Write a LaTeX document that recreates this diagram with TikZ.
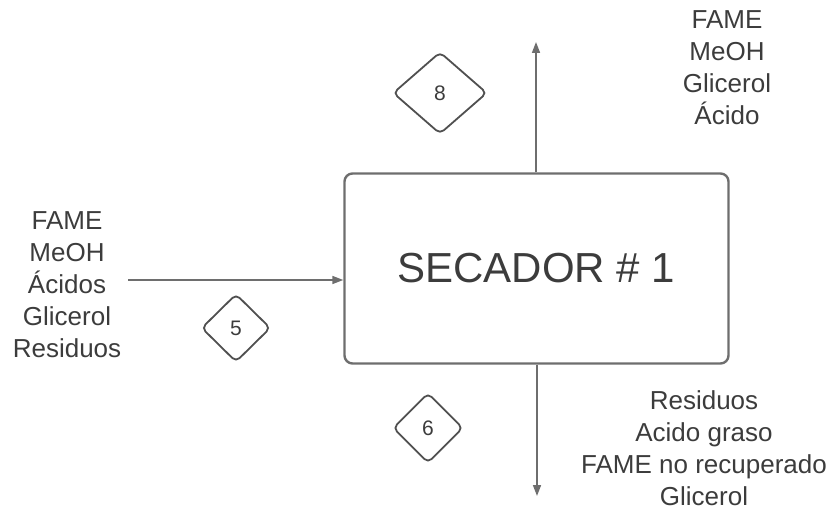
\documentclass[tikz,border=0pt]{standalone}
\usepackage{fontspec}
\setmainfont{Liberation Sans}
\usetikzlibrary{shapes.geometric,arrows.meta}
\definecolor{ln}{HTML}{6E6E6E}
\definecolor{tx}{HTML}{3C3C3C}
\tikzset{
  flow/.style={draw=ln,line width=1.6pt,-{Triangle[length=11pt,width=8pt]}},
  box/.style={draw=ln,line width=2.4pt,rounded corners=8pt,minimum width=384pt,minimum height=190pt,inner sep=0pt,text=tx,font=\fontsize{42}{48}\selectfont},
  tag/.style={diamond,draw=tx!90,line width=1.8pt,rounded corners=5pt,inner sep=0pt,text=tx,font=\fontsize{21}{24}\selectfont},
  lbl/.style={align=center,text=tx,font=\fontsize{26}{32}\selectfont,inner sep=0pt}
}
\begin{document}
\begin{tikzpicture}[x=1pt,y=-1pt]
\useasboundingbox (0,0) rectangle (835,510);
\node[box] (sec) at (536.5,268.5) {SECADOR \# 1};
\coordinate (top) at (536,42);
\coordinate (bot) at (537,496);
\coordinate (in) at (128,280);
\draw[flow] (sec.north -| top) -- (top);
\draw[flow] (sec.south -| bot) -- (bot);
\draw[flow] (in) -- (in -| sec.west);
\node[tag,minimum width=94pt,minimum height=82pt] (d8) at (440,93) {8};
\node[tag,minimum width=69pt,minimum height=68pt] (d5) at (236,328) {5};
\node[tag,minimum width=70pt,minimum height=70pt] (d6) at (428,428) {6};
\node[lbl] (tin) at (67,285) {FAME\\MeOH\\Ácidos\\Glicerol\\Residuos};
\node[lbl] (ttop) at (727,68) {FAME\\MeOH\\Glicerol\\Ácido};
\node[lbl] (tbot) at (704,448) {Residuos\\Acido graso\\FAME no recuperado\\Glicerol};
\end{tikzpicture}
\end{document}
